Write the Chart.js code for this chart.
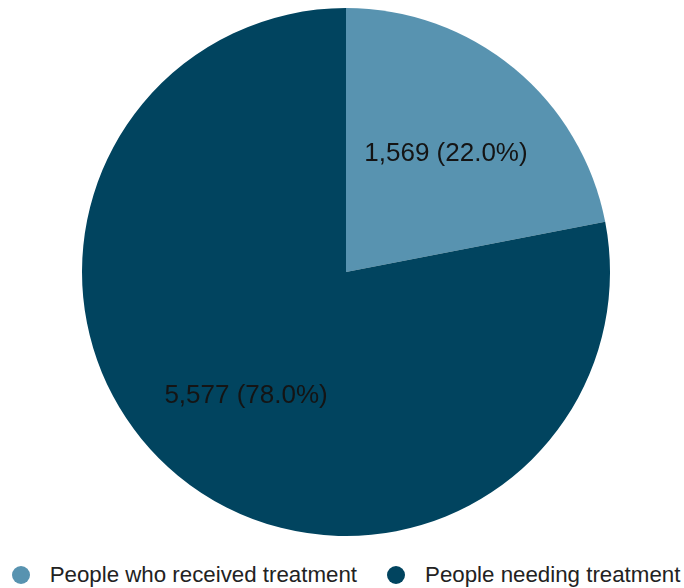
<!DOCTYPE html>
<html>
<head>
<meta charset="utf-8">
<script src="https://cdn.jsdelivr.net/npm/chart.js@4/dist/chart.umd.min.js"></script>
<style>
  html, body { margin: 0; padding: 0; background: #ffffff; }
  #wrap { position: relative; width: 684px; height: 588px; }
  #chartBox { position: absolute; left: 0; top: 0; width: 684px; height: 544px; }
  #legend {
    position: absolute; left: 0; top: 563px; width: 684px; height: 24px;
    box-sizing: border-box; padding-left: 8px;
    display: flex; justify-content: center; align-items: center;
    font-family: "Liberation Sans", Arial, sans-serif; font-size: 22.3px; color: #222222;
  }
  .item { display: flex; align-items: center; margin: 0 15px; white-space: nowrap; }
  .dot { width: 18px; height: 18px; border-radius: 50%; margin-right: 20px; }
</style>
</head>
<body>
<div id="wrap">
  <div id="chartBox"><canvas id="pieChart"></canvas></div>
  <div id="legend"></div>
</div>
<script>
    const categories = ['People who received treatment', 'People needing treatment'];
    const values = [1569, 5577];
    const percents = ['22.0%', '78.0%'];
    const colors = ['#5893b0', '#01445f'];

    // Slice labels: "value (percent)" drawn inside each arc
    const sliceLabels = {
        id: 'sliceLabels',
        afterDatasetsDraw(chart) {
            const ctx = chart.ctx;
            const meta = chart.getDatasetMeta(0);
            ctx.save();
            ctx.font = '26px "Liberation Sans", Arial, sans-serif';
            ctx.fillStyle = '#141414';
            ctx.textAlign = 'center';
            ctx.textBaseline = 'middle';
            meta.data.forEach((arc, i) => {
                const p = arc.getProps(['x', 'y', 'startAngle', 'endAngle', 'outerRadius'], true);
                const mid = (p.startAngle + p.endAngle) / 2;
                const r = p.outerRadius * 0.595;
                const text = values[i].toLocaleString('en-US') + ' (' + percents[i] + ')';
                ctx.fillText(text, p.x + Math.cos(mid) * r, p.y + Math.sin(mid) * r + 3);
            });
            ctx.restore();
        }
    };

    new Chart(document.getElementById('pieChart'), {
        type: 'pie',
        data: {
            labels: categories,
            datasets: [{
                data: values,
                backgroundColor: colors,
                borderWidth: 0
            }]
        },
        options: {
            responsive: true,
            maintainAspectRatio: false,
            animation: false,
            layout: { padding: { left: 8, top: 8, bottom: 8, right: 0 } },
            plugins: {
                legend: { display: false },
                tooltip: { enabled: false }
            }
        },
        plugins: [sliceLabels]
    });

    // Legend below the pie
    const legend = document.getElementById('legend');
    categories.forEach((name, i) => {
        const item = document.createElement('div');
        item.className = 'item';
        const dot = document.createElement('span');
        dot.className = 'dot';
        dot.style.background = colors[i];
        const label = document.createElement('span');
        label.textContent = name;
        item.appendChild(dot);
        item.appendChild(label);
        legend.appendChild(item);
    });
</script>
</body>
</html>
